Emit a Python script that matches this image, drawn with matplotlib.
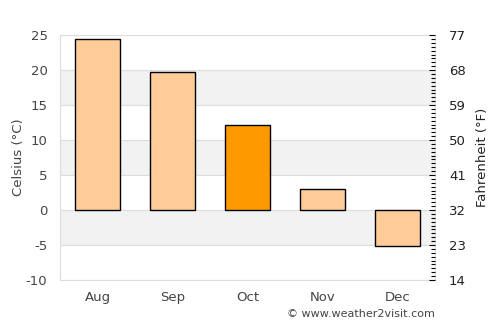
import matplotlib
matplotlib.use("Agg")
import matplotlib.pyplot as plt
from matplotlib.ticker import MultipleLocator

months = ["Aug", "Sep", "Oct", "Nov", "Dec"]
temps_c = [24.5, 19.7, 12.2, 3.0, -5.1]
highlight = "Oct"
c_ticks = [-10, -5, 0, 5, 10, 15, 20, 25]
f_ticks = [14, 23, 32, 41, 50, 59, 68, 77]
bands = [(15, 20), (5, 10), (-5, 0)]

fig = plt.figure(figsize=(5, 3.25), dpi=100)
ax = fig.add_axes([0.12, 0.1385, 0.75, 0.7535])
txt = "#444444"

for lo, hi in bands:
    ax.axhspan(lo, hi, color="#f2f2f2", zorder=0, lw=0)
for t in c_ticks:
    ax.axhline(t, color="#dddddd", lw=0.8, zorder=0.5)

colors = ["#ff9900" if m == highlight else "#ffcc99" for m in months]
x = list(range(len(months)))
ax.bar(x, temps_c, width=0.6, color=colors, edgecolor="black", linewidth=1, zorder=2)

ax.set_xlim(-0.5, len(months) - 0.5)
ax.set_ylim(-10, 25)
ax.set_yticks(c_ticks)
ax.set_yticklabels([str(t) for t in c_ticks])
ax.set_xticks(x)
ax.set_xticklabels(months)
ax.tick_params(axis="both", length=0, labelsize=9.5, colors=txt, pad=8)
ax.tick_params(axis="y", pad=9)
ax.set_ylabel("Celsius (°C)", color=txt, fontsize=9.5, labelpad=0.5)
for s in ax.spines.values():
    s.set_color("#dddddd")
    s.set_linewidth(0.8)

ax2 = ax.twinx()
ax2.set_ylim(14, 77)
ax2.set_yticks(f_ticks)
ax2.set_yticklabels([str(t) for t in f_ticks])
ax2.yaxis.set_minor_locator(MultipleLocator(1))
ax2.tick_params(axis="y", which="major", direction="in", length=4, width=0.8, colors="black", labelsize=9.5, pad=10)
ax2.tick_params(axis="y", which="minor", direction="in", length=3, width=0.8, colors="black")
for lab in ax2.get_yticklabels():
    lab.set_color("#222222")
ax2.set_ylabel("Fahrenheit (°F)", color="#222222", fontsize=9.5, labelpad=7)
for s in ax2.spines.values():
    s.set_visible(False)

fig.text(0.87, 0.035, "© www.weather2visit.com", ha="right", va="center", fontsize=8, color=txt)

fig.savefig("out.png", dpi=100)
